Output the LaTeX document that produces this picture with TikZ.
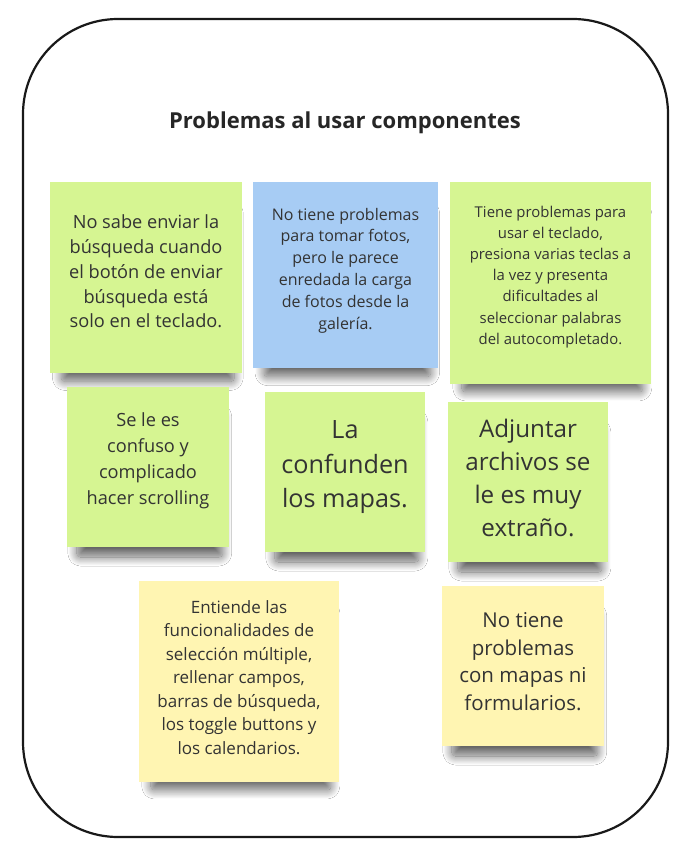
\documentclass[tikz,border=0pt]{standalone}
\usepackage{fontspec}
\setmainfont{Open Sans}
\usetikzlibrary{shadows.blur,calc}
\definecolor{notegreen}{HTML}{D6F592}
\definecolor{noteblue}{HTML}{A7CCF4}
\definecolor{noteyellow}{HTML}{FFF5B2}
\definecolor{txt}{HTML}{333333}
\tikzset{
  note/.style={draw=none, inner sep=0pt,
    blur shadow={shadow xshift=2pt, shadow yshift=-20pt, shadow blur steps=24,
      shadow opacity=60, shadow scale=0.9,
      shadow blur radius=10pt, shadow blur extra rounding=4pt}},
  notetext/.style={align=center, text=txt, inner sep=0pt},
  frame/.style={draw=black!90, line width=2.2pt, rounded corners=95pt},
}
\newcommand{\fs}[2]{\fontsize{#1}{#2}\selectfont}
\begin{document}
\begin{tikzpicture}[x=1pt,y=-1pt]
\useasboundingbox[fill=white] (0,0) rectangle (697,858);
\draw[frame] (23,19) rectangle (668,837);
\node[font=\fs{22}{26}\bfseries, text=black!85] (title) at (345,123) {Problemas al usar componentes};

\node[note, fill=notegreen, minimum width=192pt, minimum height=191pt] (n1) at (146,277.5) {};
\node[notetext, font=\fs{18.2}{24.8}] (t1) at ($(n1.center)+(0,-6)$)
  {No sabe enviar la\\búsqueda cuando\\el botón de enviar\\búsqueda está\\solo en el teclado.};
\node[note, fill=noteblue, minimum width=185pt, minimum height=186pt] (n2) at (345.5,275) {};
\node[notetext, font=\fs{16}{21.8}] (t2) at ($(n2.center)+(0,-4.5)$)
  {No tiene problemas\\para tomar fotos,\\pero le parece\\enredada la carga\\de fotos desde la\\galería.};
\node[note, fill=notegreen, minimum width=201pt, minimum height=202pt] (n3) at (550.5,283) {};
\node[notetext, font=\fs{14.9}{21.1}] (t3) at ($(n3.center)+(0,-6)$)
  {Tiene problemas para\\usar el teclado,\\presiona varias teclas a\\la vez y presenta\\dificultades al\\seleccionar palabras\\del autocompletado.};
\node[note, fill=notegreen, minimum width=162pt, minimum height=160pt] (n4) at (148,467) {};
\node[notetext, font=\fs{18.2}{26}] (t4) at ($(n4.center)+(0,-6)$)
  {Se le es\\confuso y\\complicado\\hacer scrolling};
\node[note, fill=notegreen, minimum width=160pt, minimum height=160pt] (n5) at (345,472) {};
\node[notetext, font=\fs{25.2}{34.5}] (t5) at ($(n5.center)+(0,-4.5)$)
  {La\\confunden\\los mapas.};
\node[note, fill=notegreen, minimum width=160pt, minimum height=160pt] (n6) at (528,482) {};
\node[notetext, font=\fs{24.2}{33}] (t6) at ($(n6.center)+(0,-4.5)$)
  {Adjuntar\\archivos se\\le es muy\\extraño.};
\node[note, fill=noteyellow, minimum width=200pt, minimum height=201pt] (n7) at (239,681.5) {};
\node[notetext, font=\fs{17}{23.5}] (t7) at ($(n7.center)+(0,-4)$)
  {Entiende las\\funcionalidades de\\selección múltiple,\\rellenar campos,\\barras de búsqueda,\\los toggle buttons y\\los calendarios.};
\node[note, fill=noteyellow, minimum width=162pt, minimum height=160pt] (n8) at (523,666) {};
\node[notetext, font=\fs{20.5}{27.5}] (t8) at ($(n8.center)+(0,-4.5)$)
  {No tiene\\problemas\\con mapas ni\\formularios.};
\end{tikzpicture}
\end{document}
